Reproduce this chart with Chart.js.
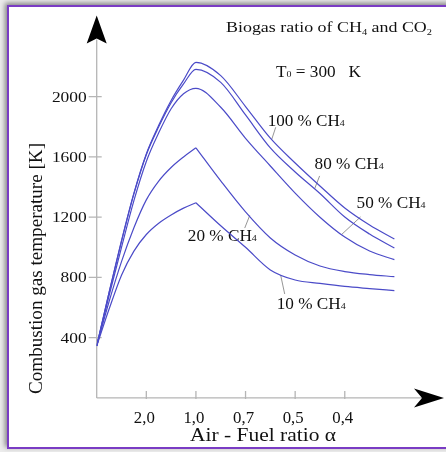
<!DOCTYPE html>
<html>
<head>
<meta charset="utf-8">
<script src="https://cdn.jsdelivr.net/npm/chart.js@4.4.1/dist/chart.umd.min.js"></script>
<style>
  html, body { margin: 0; width: 446px; height: 452px; overflow: hidden; background: #ececec; }
  #frame { position: absolute; left: 7px; top: 5px; width: 460px; height: 440px; border: 2px solid #7a3cc4; background: #fff; box-shadow: -2px -2px 5px rgba(0,0,0,0.45); }
  #chart { position: absolute; left: 0; top: 0; }
</style>
</head>
<body>
<div id="frame"></div>
<canvas id="chart" width="446" height="452"></canvas>
<script>
// x positions in tick steps (0 = y axis, 1..5 = labelled ticks)
const xs = [0, 0.25, 0.5, 0.75, 1, 1.25, 1.5, 1.75, 2, 2.5, 3, 3.5, 4, 4.5, 5, 5.5, 6];
const peakIdx = 8; // alpha = 1,0

const ch100 = [345, 700, 1045, 1360, 1620, 1810, 1975, 2110, 2228, 2140, 1935, 1725, 1560, 1407, 1261, 1148, 1055];
const ch80  = [345, 700, 1040, 1355, 1615, 1800, 1960, 2085, 2182, 2095, 1879, 1660, 1500, 1357, 1201, 1088, 995];
const ch50  = [345, 680, 1000, 1310, 1570, 1760, 1920, 2020, 2056, 1930, 1724, 1540, 1360, 1200, 1068, 975, 918];
const ch20  = [345, 640, 905, 1130, 1315, 1440, 1530, 1600, 1661, 1441, 1235, 1062, 949, 876, 839, 819, 805];
const ch10  = [345, 590, 815, 975, 1085, 1160, 1215, 1260, 1296, 1143, 1000, 850, 783, 760, 740, 726, 713];

const xTickPos = [1, 2, 3, 4, 5];
const xTickLabels = ['2,0', '1,0', '0,7', '0,5', '0,4'];
const yTicks = [400, 800, 1200, 1600, 2000];

const seriesNames = ['100 % CH', '80 % CH', '50 % CH', '20 % CH', '10 % CH'];

const serif = '"Liberation Serif", "DejaVu Serif", serif';
const lineColor = '#4b4bc8';

function pts(vals, from, to) {
  return xs.slice(from, to).map((x, i) => ({ x: x, y: vals[from + i] }));
}

// draws text pieces; piece = [text] or [text, dy] (small subscript)
function drawText(c, parts, x, y, size, width, align) {
  const pieces = parts.map(p => {
    const fs = p.length > 1 ? size * 0.58 : size;
    c.font = fs + 'px ' + serif;
    return { t: p[0], fs: fs, dy: p.length > 1 ? p[1] : 0, w: c.measureText(p[0]).width };
  });
  const nat = pieces.reduce((s, p) => s + p.w, 0);
  const sx = width ? width / nat : 1;
  let x0 = x;
  if (align === 'center') x0 = x - nat * sx / 2;
  if (align === 'right') x0 = x - nat * sx;
  c.save();
  c.translate(x0, y);
  c.scale(sx, 1);
  c.textAlign = 'left';
  c.textBaseline = 'alphabetic';
  c.fillStyle = '#111';
  let cx = 0;
  pieces.forEach(p => {
    c.font = p.fs + 'px ' + serif;
    c.fillText(p.t, cx, p.dy);
    cx += p.w;
  });
  c.restore();
}

// curve labels: [name index, label left x, baseline y, pointer start, pointer end] in data units
const notes = [
  [0, 3.447, 1805, [3.608, 1797], [3.527, 1716]],
  [1, 4.392, 1520, [4.493, 1474], [4.392, 1388]],
  [2, 5.237, 1261, [5.318, 1202], [4.936, 1085]],
  [3, 1.837, 1042, [2.984, 1128], [3.085, 1212]],
  [4, 3.628, 590,  [3.789, 690],  [3.708, 815]]
];

const axesPlugin = {
  id: 'axesPlugin',
  beforeDatasetsDraw(chart) {
    const c = chart.ctx;
    const sx = chart.scales.x, sy = chart.scales.y;
    const ax = sx.getPixelForValue(0), ay = sy.getPixelForValue(0);
    const top = sy.getPixelForValue(sy.max), right = sx.getPixelForValue(sx.max);
    c.save();
    c.strokeStyle = '#b5b5b5';
    c.lineWidth = 1.3;
    c.beginPath();
    c.moveTo(ax, ay); c.lineTo(ax, top + 24);
    c.moveTo(ax, ay); c.lineTo(right - 22, ay);
    yTicks.forEach(v => {
      const p = sy.getPixelForValue(v);
      c.moveTo(ax - 8, p); c.lineTo(ax + 5, p);
    });
    xTickPos.forEach(v => {
      const p = sx.getPixelForValue(v);
      c.moveTo(p, ay - 7); c.lineTo(p, ay + 1);
    });
    c.stroke();

    // arrow heads
    c.fillStyle = '#000';
    c.beginPath();
    c.moveTo(ax, top);
    c.lineTo(ax + 10, top + 28);
    c.lineTo(ax, top + 23);
    c.lineTo(ax - 10, top + 28);
    c.closePath();
    c.fill();
    c.beginPath();
    c.moveTo(right, ay);
    c.lineTo(right - 30, ay + 9.5);
    c.lineTo(right - 22, ay);
    c.lineTo(right - 30, ay - 9.5);
    c.closePath();
    c.fill();

    // tick labels
    yTicks.forEach(v => {
      const s = String(v);
      drawText(c, [[s]], ax - 10, sy.getPixelForValue(v) + 5, 14.5, s.length * 8.7, 'right');
    });
    xTickPos.forEach((v, i) => {
      drawText(c, [[xTickLabels[i]]], sx.getPixelForValue(v) - 2, 423, 17, 21, 'center');
    });

    // axis titles
    drawText(c, [['Air - Fuel ratio α']], 263, 441, 18.5, 146, 'center');
    c.save();
    c.translate(41.5, 268.5);
    c.rotate(-Math.PI / 2);
    drawText(c, [['Combustion gas temperature [K]']], 0, 0, 18.5, 251, 'center');
    c.restore();

    // header texts
    drawText(c, [['Biogas ratio of CH'], ['4', 3], [' and CO'], ['2', 3]], 226, 32, 14.5, 206, 'left');
    drawText(c, [['T'], ['0', 0], [' = 300   K']], 276, 77, 16, 85, 'left');

    // curve labels with pointers
    c.strokeStyle = '#8a8a8a';
    c.lineWidth = 0.9;
    notes.forEach(n => {
      c.beginPath();
      c.moveTo(sx.getPixelForValue(n[3][0]), sy.getPixelForValue(n[3][1]));
      c.lineTo(sx.getPixelForValue(n[4][0]), sy.getPixelForValue(n[4][1]));
      c.stroke();
      const w = n[0] === 0 ? 77 : 69;
      drawText(c, [[seriesNames[n[0]]], ['4', 0]], sx.getPixelForValue(n[1]), sy.getPixelForValue(n[2]), 16, w, 'left');
    });
    c.restore();
  }
};

const ds = (data) => ({
  data: data,
  borderColor: lineColor,
  borderWidth: 1.2,
  pointRadius: 0,
  fill: false,
  cubicInterpolationMode: 'monotone'
});

// rounded peaks: one smooth line; sharp peaks: rising and falling branch
new Chart(document.getElementById('chart'), {
  type: 'line',
  data: {
    datasets: [
      ds(pts(ch100, 0, xs.length)),
      ds(pts(ch80, 0, xs.length)),
      ds(pts(ch50, 0, xs.length)),
      ds(pts(ch20, 0, peakIdx + 1)),
      ds(pts(ch20, peakIdx, xs.length)),
      ds(pts(ch10, 0, peakIdx + 1)),
      ds(pts(ch10, peakIdx, xs.length))
    ]
  },
  options: {
    responsive: false,
    animation: false,
    layout: { padding: { left: 96.7, right: 2, top: 15.4, bottom: 54.1 } },
    scales: {
      x: { type: 'linear', min: 0, max: 7, display: false },
      y: { type: 'linear', min: 0, max: 2540, display: false }
    },
    plugins: {
      legend: { display: false },
      tooltip: { enabled: false }
    }
  },
  plugins: [axesPlugin]
});
</script>
</body>
</html>
